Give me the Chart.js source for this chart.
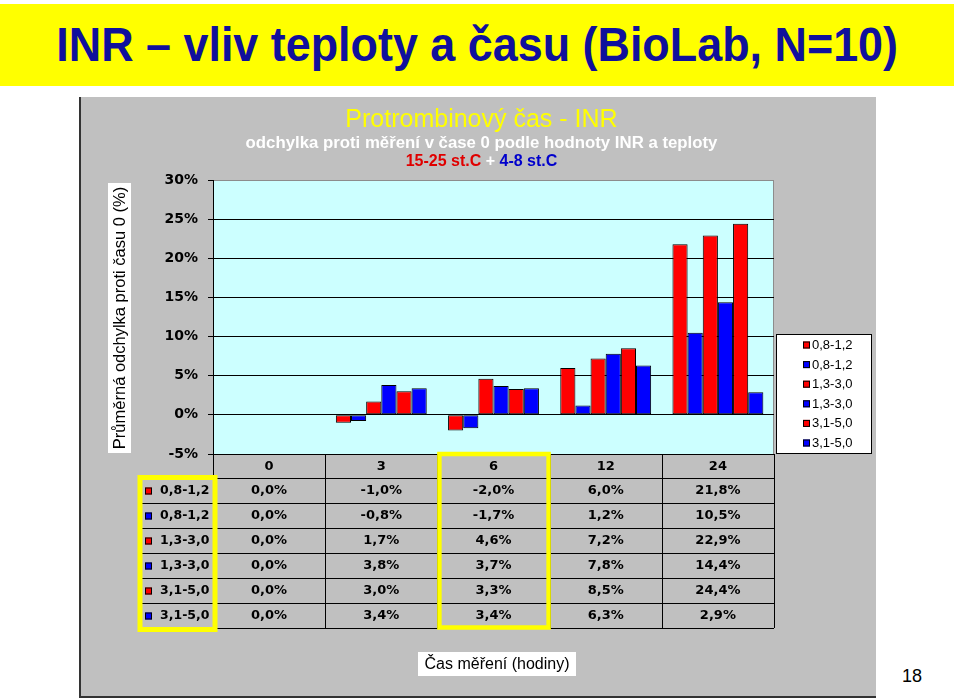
<!DOCTYPE html>
<html>
<head>
<meta charset="utf-8">
<script src="https://cdn.jsdelivr.net/npm/chart.js@4.4.0/dist/chart.umd.min.js"></script>
<style>
  html, body { margin: 0; padding: 0; background: #fff; }
  body { width: 960px; height: 698px; position: relative; overflow: hidden; font-family: "Liberation Sans", Arial, sans-serif; }
  #band { position: absolute; left: 0; top: 4px; width: 954px; height: 82px; background: #ffff00; text-align: center; white-space: nowrap; }
  #band span { display: inline-block; color: #10109c; font-weight: bold; font-size: 48px; line-height: 82px;
               transform: scaleX(0.935); transform-origin: 50% 50%; }
  #panel { position: absolute; left: 79px; top: 97px; width: 795px; height: 599px; background: #c0c0c0;
           border-left: 2px solid #333; border-bottom: 2px solid #333; }
  #chart { position: absolute; left: 80px; top: 97px; }
  #page { position: absolute; left: 898px; top: 666px; width: 28px; text-align: center; font-size: 18px; line-height: 20px; color: #000; }
</style>
</head>
<body>
<div id="band"><span>INR – vliv teploty a času (BioLab, N=10)</span></div>
<div id="panel"></div>
<canvas id="chart" width="796" height="601"></canvas>
<div id="page">18</div>

<script>
// hodiny mereni
const hours = ['0', '3', '6', '12', '24'];
// INR ranges (red = 15-25 st.C, blue = 4-8 st.C)
const seriesNames = ['0,8-1,2', '0,8-1,2', '1,3-3,0', '1,3-3,0', '3,1-5,0', '3,1-5,0'];
const red0812 = [0.0, -1.0, -2.0, 6.0, 21.8];
const blue0812 = [0.0, -0.8, -1.7, 1.2, 10.5];
const red1330 = [0.0, 1.7, 4.6, 7.2, 22.9];
const blue1330 = [0.0, 3.8, 3.7, 7.8, 14.4];
const red3150 = [0.0, 3.0, 3.3, 8.5, 24.4];
const blue3150 = [0.0, 3.4, 3.4, 6.3, 2.9];
const yTicks = [-5, 0, 5, 10, 15, 20, 25, 30];

const RED = '#ff0000';
const BLUE = '#0000ff';

Chart.defaults.font.family = '"Liberation Sans", Arial, sans-serif';

function pct(v) {
    return v.toFixed(1).replace('.', ',') + '%';
}

function drawKey(ctx, x, cy, color) {
    ctx.fillStyle = color;
    ctx.fillRect(x, cy - 3.5, 7, 7);
    ctx.strokeStyle = '#000';
    ctx.lineWidth = 1;
    ctx.strokeRect(x + 0.5, cy - 3, 6, 6);
}

// Excel-like bits: plot background, data table, legend, axis titles
const excelTable = {
    id: 'excelTable',
    beforeDraw(chart) {
        const { ctx, chartArea: a } = chart;
        ctx.save();
        ctx.fillStyle = '#ccffff';
        ctx.fillRect(a.left, a.top, a.right - a.left, a.bottom - a.top);
        ctx.strokeStyle = '#8c8c8c';
        ctx.lineWidth = 1;
        ctx.strokeRect(a.left + 0.5, a.top + 0.5, a.right - a.left - 1, a.bottom - a.top);
        ctx.restore();
    },
    afterDraw(chart) {
        const { ctx, chartArea: a, scales: { x } } = chart;
        const sets = chart.data.datasets;
        const colW = (a.right - a.left) / hours.length;
        const headH = 24, rowH = 25;
        const rowsTop = a.bottom + headH;
        const tblBot = rowsTop + rowH * sets.length;
        const tblLeft = a.left - 73;

        ctx.save();

        // third line of the title (two colours)
        const tb = chart.titleBlock;
        const parts = [['15-25 st.C', '#e00000'], [' + ', '#ffffff'], ['4-8 st.C', '#0000cc']];
        ctx.font = 'bold 16px "Liberation Sans"';
        ctx.textBaseline = 'middle';
        ctx.textAlign = 'left';
        const total = parts.reduce((s, p) => s + ctx.measureText(p[0]).width, 0);
        let px = (tb.left + tb.right) / 2 - total / 2;
        parts.forEach(([t, c]) => {
            ctx.fillStyle = c;
            ctx.fillText(t, px, 65);
            px += ctx.measureText(t).width;
        });

        // table grid
        ctx.strokeStyle = '#000';
        ctx.lineWidth = 1;
        ctx.beginPath();
        for (let k = 0; k <= sets.length; k++) {
            const y = Math.round(rowsTop + k * rowH) + 0.5;
            ctx.moveTo(tblLeft, y);
            ctx.lineTo(a.right, y);
        }
        for (let i = 0; i <= hours.length; i++) {
            const xx = Math.round(a.left + i * colW) + 0.5;
            ctx.moveTo(xx, a.bottom);
            ctx.lineTo(xx, tblBot);
        }
        ctx.moveTo(tblLeft + 0.5, rowsTop);
        ctx.lineTo(tblLeft + 0.5, tblBot);
        ctx.stroke();

        // table rows
        sets.forEach((ds, r) => {
            const cy = rowsTop + r * rowH + rowH / 2 + 0.5;
            drawKey(ctx, tblLeft + 5, cy, ds.backgroundColor);
            ctx.fillStyle = '#000';
            ctx.font = 'bold 12.5px "DejaVu Sans"';
            ctx.textAlign = 'left';
            ctx.fillText(ds.label, tblLeft + 20, cy);
            ctx.font = 'bold 13px "DejaVu Sans"';
            ctx.textAlign = 'center';
            ds.data.forEach((v, i) => {
                ctx.fillText(pct(v), x.getPixelForValue(i), cy);
            });
        });

        // legend
        const lgL = a.right + 2, lgW = 96, lgH = 120;
        const lgT = a.bottom - lgH;
        ctx.fillStyle = '#fff';
        ctx.fillRect(lgL, lgT, lgW, lgH);
        ctx.strokeStyle = '#000';
        ctx.strokeRect(lgL + 0.5, lgT + 0.5, lgW - 1, lgH - 1);
        ctx.font = '13px "Liberation Sans"';
        ctx.textAlign = 'left';
        sets.forEach((ds, i) => {
            const cy = lgT + 11 + i * 19.6;
            drawKey(ctx, lgL + 27, cy, ds.backgroundColor);
            ctx.fillStyle = '#000';
            ctx.fillText(ds.label, lgL + 36, cy + 0.5);
        });

        // y axis title
        ctx.save();
        ctx.translate(39.5, (a.top + a.bottom) / 2 + 1);
        ctx.rotate(-Math.PI / 2);
        ctx.fillStyle = '#fff';
        ctx.fillRect(-135, -11.5, 270, 23);
        ctx.fillStyle = '#000';
        ctx.font = '16.5px "Liberation Sans"';
        ctx.textAlign = 'center';
        ctx.fillText('Průměrná odchylka proti času 0 (%)', 0, 1);
        ctx.restore();

        // x axis title
        const cx = (a.left + a.right) / 2 + 3.5;
        const ty = tblBot + 36;
        ctx.fillStyle = '#fff';
        ctx.fillRect(cx - 79, ty - 12, 158, 24);
        ctx.fillStyle = '#000';
        ctx.font = '16px "Liberation Sans"';
        ctx.textAlign = 'center';
        ctx.fillText('Čas měření (hodiny)', cx, ty + 1);

        // yellow highlight frames
        ctx.strokeStyle = '#ffff00';
        ctx.lineWidth = 5;
        ctx.strokeRect(tblLeft, rowsTop - 0.5, a.left + 2 - tblLeft, tblBot + 2 - rowsTop);
        const c6L = a.left + 2 * colW, c6R = c6L + colW;
        ctx.lineWidth = 4.5;
        ctx.strokeRect(c6L + 2, a.bottom, c6R - c6L - 3, tblBot - a.bottom - 0.5);

        ctx.restore();
    }
};

const allSeries = [red0812, blue0812, red1330, blue1330, red3150, blue3150];

new Chart(document.getElementById('chart'), {
    type: 'bar',
    data: {
        labels: hours,
        datasets: allSeries.map((d, i) => ({
            label: seriesNames[i],
            data: d,
            backgroundColor: i % 2 ? BLUE : RED,
            borderColor: '#000',
            borderWidth: 1,
            borderSkipped: false,
            categoryPercentage: 0.81,
            barPercentage: 1
        }))
    },
    options: {
        responsive: false,
        animation: false,
        events: [],
        layout: {
            padding: { left: 7, right: 0, top: 0, bottom: 0 }
        },
        plugins: {
            legend: { display: false },
            tooltip: { enabled: false },
            title: {
                display: true,
                text: 'Protrombinový čas - INR',
                color: '#ffff00',
                font: { size: 25, weight: 'normal', lineHeight: 1 },
                padding: { top: 10.5, bottom: 0 }
            },
            subtitle: {
                display: true,
                text: 'odchylka proti měření v čase 0 podle hodnoty INR a teploty',
                color: '#ffffff',
                font: { size: 16.8, weight: 'bold', lineHeight: 1 },
                padding: { top: 2, bottom: 28.7 }
            }
        },
        scales: {
            x: {
                grid: { display: false, drawTicks: false },
                border: { display: false },
                ticks: {
                    color: '#000',
                    font: { family: '"DejaVu Sans"', weight: 'bold', size: 13 },
                    padding: 5,
                    maxRotation: 0,
                    autoSkip: false
                },
                afterFit(s) { s.height = 244; }
            },
            y: {
                min: -5,
                max: 30,
                afterBuildTicks(s) { s.ticks = yTicks.map(v => ({ value: v })); },
                grid: {
                    color: c => (c.tick && c.tick.value === 30 ? '#8c8c8c' : '#000'),
                    tickColor: '#000',
                    tickLength: 5,
                    lineWidth: 1
                },
                border: { display: true, color: '#000', width: 1 },
                ticks: {
                    color: '#000',
                    font: { family: '"DejaVu Sans"', weight: 'bold', size: 14 },
                    padding: 10,
                    callback: v => v + '%'
                },
                afterFit(s) { s.width = 126; }
            },
            // empty right-hand axis: keeps room for the legend box
            yRight: {
                type: 'linear',
                position: 'right',
                grid: { display: false, drawTicks: false },
                border: { display: false },
                ticks: { display: false },
                afterFit(s) { s.width = 102; }
            }
        }
    },
    plugins: [excelTable]
});
</script>
</body>
</html>
